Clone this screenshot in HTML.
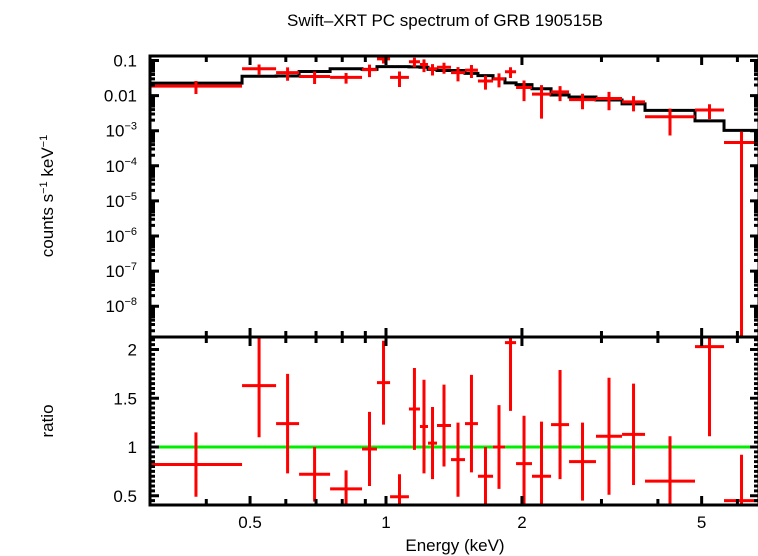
<!DOCTYPE html>
<html><head><meta charset="utf-8">
<style>
html,body{margin:0;padding:0;background:#fff;}
svg{display:block;font-family:"Liberation Sans",sans-serif;}
</style></head>
<body>
<svg id="chart" width="758" height="556" viewBox="0 0 758 556" xmlns="http://www.w3.org/2000/svg">
<text x="445" y="26" font-size="17" text-anchor="middle">Swift–XRT PC spectrum of GRB 190515B</text>
<text transform="translate(53,196) rotate(-90)" font-size="17" text-anchor="middle">counts s<tspan baseline-shift="super" font-size="11">−1</tspan> keV<tspan baseline-shift="super" font-size="11">−1</tspan></text>
<text transform="translate(53,421) rotate(-90)" font-size="17" text-anchor="middle">ratio</text>
<text x="455" y="551" font-size="17" text-anchor="middle">Energy (keV)</text>
<g id="layer"></g>
</svg>
<script>
const binEdges=[0.300,0.480,0.571,0.642,0.752,0.885,0.955,1.021,1.124,1.189,1.239,1.297,1.393,1.496,1.598,1.726,1.834,1.941,2.105,2.320,2.543,2.917,3.332,3.746,4.833,5.604,6.699];
const rate=[0.0186,0.058,0.045,0.035,0.033,0.055,0.111,0.033,0.092,0.077,0.058,0.064,0.045,0.053,0.026,0.030,0.048,0.017,0.011,0.0128,0.0077,0.0083,0.0066,0.0025,0.0039,0.00046];
const model=[0.0227,0.0356,0.0363,0.0486,0.058,0.056,0.067,0.067,0.066,0.064,0.056,0.052,0.052,0.043,0.037,0.030,0.023,0.0205,0.0157,0.0104,0.0091,0.0075,0.0058,0.0038,0.0019,0.00102];
const ratio=[0.82,1.63,1.24,0.72,0.57,0.98,1.66,0.49,1.39,1.21,1.04,1.22,0.87,1.24,0.70,1.00,2.07,0.83,0.70,1.23,0.85,1.11,1.13,0.65,2.03,0.45];
const ratioErr=[0.33,0.53,0.51,0.28,0.19,0.38,0.43,0.23,0.42,0.48,0.37,0.42,0.38,0.5,0.30,0.43,0.70,0.49,0.56,0.56,0.40,0.60,0.52,0.46,0.92,0.47];
const topTicks=[0.1,0.01,1e-3,1e-4,1e-5,1e-6,1e-7,1e-8];
const topTickLabels=["0.1","0.01","10|−3","10|−4","10|−5","10|−6","10|−7","10|−8"];
const ratioTicks=[0.5,1,1.5,2];
const ratioTickLabels=["0.5","1","1.5","2"];
const xTicks=[0.5,1,2,5];
const xTickLabels=["0.5","1","2","5"];

const L=150,R=759,T1=56,B1=337,B2=505;
const X=e=>386+451.6*Math.log10(e);
const Y1=v=>60.5+35.1*Math.log10(0.1/v);
const Y2=r=>447-97.5*(r-1);
const NS="http://www.w3.org/2000/svg";
const layer=document.getElementById('layer');
function mk(tag,attrs,parent){const e=document.createElementNS(NS,tag);for(const k in attrs)e.setAttribute(k,attrs[k]);(parent||layer).appendChild(e);return e;}
const clip=mk('clipPath',{id:'c1'});mk('rect',{x:L,y:T1,width:R-L,height:B1-T1},clip);
const clip2=mk('clipPath',{id:'c2'});mk('rect',{x:L,y:B1,width:R-L,height:B2-B1},clip2);
const g1=mk('g',{'clip-path':'url(#c1)'});


const g2=mk('g',{'clip-path':'url(#c2)'});



// model step line
let d='';
for(let i=0;i<model.length;i++){const x0=X(binEdges[i]),x1=X(binEdges[i+1]),y=Y1(model[i]);d+=(i?'L':'M')+x0+','+y+'L'+x1+','+y;}
const ml=mk('path',{d:d,fill:'none',stroke:'#000','stroke-width':3},g1);



// unity line
const ul=mk('line',{x1:L,x2:R,y1:Y2(1),y2:Y2(1),stroke:'#00ee00','stroke-width':3},g2);



for(let i=0;i<rate.length;i++){
  const x0=X(binEdges[i]),x1=X(binEdges[i+1]),xc=(x0+x1)/2;
  const f=ratioErr[i]/ratio[i];
  const y=Y1(rate[i]),ylo=Y1(Math.max(rate[i]*(1-f),1e-12)),yhi=Y1(rate[i]*(1+f));
  const p=mk('path',{d:`M${x0},${y}H${x1}M${xc},${yhi}V${ylo}`,stroke:'#ff0000','stroke-width':3,fill:'none'},g1);
  
  
  const r=Y2(ratio[i]),rlo=Y2(ratio[i]-ratioErr[i]),rhi=Y2(ratio[i]+ratioErr[i]);
  const q=mk('path',{d:`M${x0},${r}H${x1}M${xc},${rhi}V${rlo}`,stroke:'#ff0000','stroke-width':3,fill:'none'},g2);
  
  
}

// frames
const fr=mk('path',{d:`M${L},${T1}H${R}V${B2}H${L}Z M${L},${B1}H${R}`,fill:'none',stroke:'#000','stroke-width':3});



// x ticks (major + minor)
let td='';
const minor=[0.3,0.4,0.5,0.6,0.7,0.8,0.9,1,2,3,4,5,6];
minor.forEach(e=>{const x=X(e);const len=(e===1||e===2||e===5||e===0.5)?9:6;if(x<L+1||x>R-1)return;
 td+=`M${x},${T1}v${len}M${x},${B1}v${-len}M${x},${B1}v${len}M${x},${B2}v${-len}`;});
td+=`M${X(1)},${B1-8}v16`;
const xt=mk('path',{d:td,stroke:'#000','stroke-width':3,fill:'none'});


xTicks.forEach((e,i)=>{const t=mk('text',{x:X(e),y:528,'font-size':17,'text-anchor':'middle'});t.textContent=xTickLabels[i];

});

// top y ticks
let yd='';
for(let k=-1;k>=-9;k--){for(let m=1;m<10;m++){const v=m*Math.pow(10,k);const y=Y1(v);if(y<T1||y>B1)continue;const len=m===1?9:5;yd+=`M${L},${y}h${len}M${R},${y}h${-len}`;}}
ratioTicks.forEach(r=>{});
for(let r=0.45;r<=2.11;r+=0.05){const rr=Math.round(r*100)/100;const y=Y2(rr);const len=(Math.abs(rr*2-Math.round(rr*2))<1e-6)?9:5;yd+=`M${L},${y}h${len}M${R},${y}h${-len}`;}
const yt=mk('path',{d:yd,stroke:'#000','stroke-width':3,fill:'none'});


topTicks.forEach((v,i)=>{const parts=topTickLabels[i].split('|');const t=mk('text',{x:137,y:Y1(v)+6,'font-size':17,'text-anchor':'end'});
 if(parts.length>1){t.textContent=parts[0];const s=mk('tspan',{'font-size':11,dy:-7},t);s.textContent=parts[1];}else t.textContent=parts[0];
 
 });
ratioTicks.forEach((r,i)=>{const t=mk('text',{x:137,y:Y2(r)+6,'font-size':17,'text-anchor':'end'});t.textContent=ratioTickLabels[i];

});
</script>
</body></html>
